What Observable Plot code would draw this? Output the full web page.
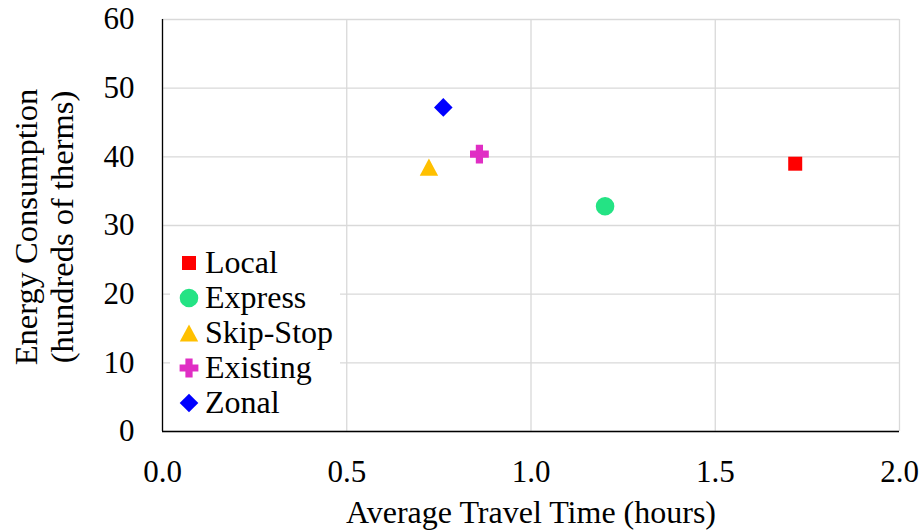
<!DOCTYPE html>
<html><head><meta charset="utf-8">
<script src="https://cdn.jsdelivr.net/npm/d3@7"></script>
<script src="https://cdn.jsdelivr.net/npm/@observablehq/plot@0.6"></script>
<style>
body{margin:0;background:#fff;}
#wrap{position:relative;width:922px;height:532px;background:#fff;}
#overlay{position:absolute;left:0;top:0;pointer-events:none;}
</style></head><body><div id="wrap"></div>
<script>
const series = ["Local", "Express", "Skip-Stop", "Existing", "Zonal"];
const travelTime = [1.717, 1.201, 0.723, 0.860, 0.762];
const energy = [39.0, 32.8, 38.5, 40.4, 47.2];
const colors = ["#FF0000", "#24E384", "#FFC000", "#E02EC4", "#0000FF"];
const markerNames = ["square", "circle", "triangle", "plus", "diamond"];
const xTicks = [0, 0.5, 1, 1.5, 2];
const yTicks = [0, 10, 20, 30, 40, 50, 60];
const xTitle = "Average Travel Time (hours)";
const yTitle = ["Energy Consumption", "(hundreds of therms)"];

const FONT = "'Liberation Serif', 'Times New Roman', serif";

const shapes = {
  square: {draw(c) { const h = 7; c.moveTo(-h, -h); c.lineTo(h, -h); c.lineTo(h, h); c.lineTo(-h, h); c.closePath(); }},
  circle: {draw(c) { const r = 9.3; c.moveTo(r, 0); c.arc(0, 0, r, 0, 2 * Math.PI); c.closePath(); }},
  triangle: {draw(c) { c.moveTo(0, -8.6); c.lineTo(9.2, 8.6); c.lineTo(-9.2, 8.6); c.closePath(); }},
  plus: {draw(c) { const a = 9.4, b = 3.6;
    c.moveTo(-b, -a); c.lineTo(b, -a); c.lineTo(b, -b); c.lineTo(a, -b); c.lineTo(a, b); c.lineTo(b, b);
    c.lineTo(b, a); c.lineTo(-b, a); c.lineTo(-b, b); c.lineTo(-a, b); c.lineTo(-a, -b); c.lineTo(-b, -b); c.closePath(); }},
  diamond: {draw(c) { const a = 9.3; c.moveTo(0, -a); c.lineTo(a, 0); c.lineTo(0, a); c.lineTo(-a, 0); c.closePath(); }}
};

const data = series.map((s, i) => ({series: s, x: travelTime[i], y: energy[i]}));

const chart = Plot.plot({
  width: 922, height: 532,
  marginLeft: 162, marginRight: 23, marginTop: 19, marginBottom: 101,
  style: {fontFamily: FONT, fontSize: "31px", color: "#000", background: "#fff", overflow: "visible"},
  x: {domain: [0, 2], label: null},
  y: {domain: [0, 60], label: null},
  marks: [
    Plot.gridX(xTicks, {stroke: "#d9d9d9", strokeOpacity: 1, strokeWidth: 1.3}),
    Plot.gridY(yTicks, {stroke: "#d9d9d9", strokeOpacity: 1, strokeWidth: 1.3}),
    Plot.axisX(xTicks, {tickSize: 0, tickPadding: 28, tickFormat: d3.format(".1f"), label: null, fill: "#000", fontFamily: FONT}),
    Plot.axisY(yTicks, {tickSize: 0, tickPadding: 28, label: null, fill: "#000", fontFamily: FONT}),
    Plot.ruleX([0], {stroke: "#000", strokeWidth: 1.3}),
    Plot.ruleY([0], {stroke: "#000", strokeWidth: 1.3}),
    ...series.map((s, i) => Plot.dot(data.filter(d => d.series === s), {
      x: "x", y: "y", symbol: shapes[markerNames[i]], fill: colors[i], stroke: "none", r: 8
    }))
  ]
});
const wrap = document.getElementById("wrap");
wrap.appendChild(chart);

// overlay: titles and legend
const ov = d3.select(wrap).append("svg").attr("id", "overlay")
  .attr("width", 922).attr("height", 532)
  .attr("font-family", FONT);

ov.append("text").attr("x", 531).attr("y", 523).attr("text-anchor", "middle")
  .attr("font-size", 32).attr("fill", "#000").text(xTitle);

yTitle.forEach((t, i) => {
  ov.append("text").attr("transform", `translate(${i === 0 ? 37 : 73},227) rotate(-90)`)
    .attr("text-anchor", "middle").attr("font-size", 32.5).attr("fill", "#000").text(t);
});

const lg = ov.append("g");
lg.append("rect").attr("x", 170).attr("y", 244).attr("width", 170).attr("height", 180).attr("fill", "#fff");
series.forEach((s, i) => {
  const cy = 263 + i * 35;
  const p = d3.path();
  shapes[markerNames[i]].draw(p);
  lg.append("path").attr("transform", `translate(189,${cy})`).attr("d", p.toString()).attr("fill", colors[i]);
  lg.append("text").attr("x", 205).attr("y", cy + 9.5).attr("font-size", 32).attr("fill", "#000").text(s);
});
</script>
</body></html>
